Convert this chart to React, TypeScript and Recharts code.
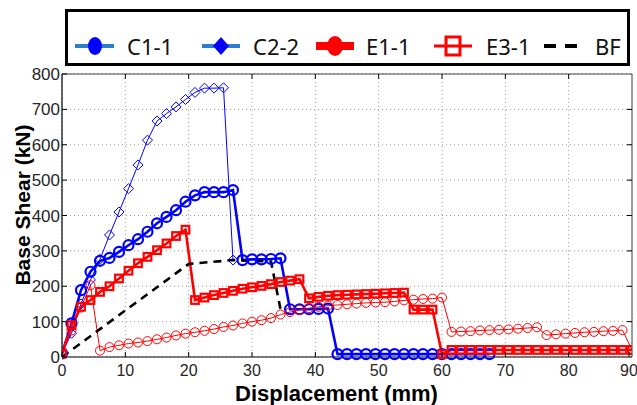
import React from "react";
import { LineChart, Line, XAxis, YAxis, CartesianGrid, ReferenceLine } from "recharts";

// displacement (mm) steps shared by the test series
const disp = [
  0, 1.5, 3, 4.5, 6, 7.5, 9, 10.5, 12, 13.5, 15, 16.5, 18, 19.5, 21, 22.5, 24, 25.5, 27, 28.5,
  30, 31.5, 33, 34.5, 36, 37.5, 39, 40.5, 42, 43.5, 45, 46.5, 48, 49.5, 51, 52.5, 54, 55.5, 57, 58.5,
  60, 61.5, 63, 64.5, 66, 67.5, 69, 70.5, 72, 73.5, 75, 76.5, 78, 79.5, 81, 82.5, 84, 85.5, 87, 88.5, 90,
];

// base shear (kN)
const c11 = [
  10, 95, 189, 241, 272, 280, 297, 316, 333, 354, 378, 396, 415, 439, 457, 466, 466, 466, 472, 274,
  276, 276, 277, 279, 135, 135, 135, 136, 137, 8, 8, 8, 8, 8, 8, 8, 8, 8, 8, 8,
  8, 8, 8, 8, 8, 8,
];
const c22 = [10, 67, 150, 218, 276, 345, 410, 476, 543, 613, 667, 688, 707, 728, 748, 760, 760, 761, 274];
const e11 = [
  10, 90, 142, 161, 184, 200, 222, 244, 265, 283, 302, 321, 342, 360, 161, 168, 175, 181, 187, 193,
  197, 201, 206, 212, 216, 220, 166, 170, 173, 175, 176, 177, 178, 179, 180, 181, 182, 134, 134, 134,
  8, 20, 20, 20, 20, 20, 20, 20, 20, 20, 20, 20, 20, 20, 20, 20, 20, 20, 20, 20, 20,
];
const e31 = [
  10, 75, 140, 203, 18, 28, 33, 38, 41, 45, 50, 55, 61, 66, 70, 74, 79, 85, 89, 95,
  100, 104, 110, 120, 127, 133, 138, 142, 145, 147, 149, 151, 153, 154, 155, 157, 160, 162, 164, 165,
  168, 71, 72, 73, 75, 76, 77, 78, 80, 82, 84, 62, 64, 66, 68, 70, 71, 73, 74, 76, 20,
];
const bfDisp = [0, 20, 27, 33, 34.5];
const bfShear = [0, 263, 274, 270, 135];

const xTicks = [0, 10, 20, 30, 40, 50, 60, 70, 80, 90];
const yTicks = [0, 100, 200, 300, 400, 500, 600, 700, 800];

const toPoints = (xs: number[], ys: number[]) => ys.map((v, i) => ({ x: xs[i], y: v }));

const BLUE = "#0000ff";
const RED = "#ff0000";
const LEGEND_BLUE = "#2c7fce";
const FONT = "'Liberation Sans', Arial, sans-serif";

const circleDot = (color: string, r: number, sw: number) => (props: any) => {
  const { cx, cy, index } = props;
  if (cx == null || cy == null) return <g key={index} />;
  return <circle key={index} cx={cx} cy={cy} r={r} fill="none" stroke={color} strokeWidth={sw} />;
};

const squareDot = (color: string, h: number, sw: number) => (props: any) => {
  const { cx, cy, index } = props;
  if (cx == null || cy == null) return <g key={index} />;
  return <rect key={index} x={cx - h} y={cy - h} width={h * 2} height={h * 2} fill="none" stroke={color} strokeWidth={sw} />;
};

const diamondDot = (color: string, h: number, sw: number) => (props: any) => {
  const { cx, cy, index } = props;
  if (cx == null || cy == null) return <g key={index} />;
  return (
    <path
      key={index}
      d={`M${cx},${cy - h}L${cx + h},${cy}L${cx},${cy + h}L${cx - h},${cy}Z`}
      fill="none"
      stroke={color}
      strokeWidth={sw}
    />
  );
};

// MATLAB-style ticks: the mark points into the plot, the label sits outside
const XTick = (props: any) => {
  const { x, y, payload } = props;
  return (
    <g>
      <line x1={x} y1={y - 8} x2={x} y2={y - 13} stroke="#000" strokeWidth={1} />
      <text x={x} y={y} dy="0.71em" textAnchor="middle" fontSize={16} fill="#262626" fontFamily={FONT}>
        {payload.value}
      </text>
    </g>
  );
};

const YTick = (props: any) => {
  const { x, y, payload } = props;
  return (
    <g>
      <line x1={x + 2} y1={y} x2={x + 7} y2={y} stroke="#000" strokeWidth={1} />
      <text x={x} y={y} dy="0.355em" textAnchor="end" fontSize={17} fill="#262626" fontFamily={FONT}>
        {payload.value}
      </text>
    </g>
  );
};

const legendText: React.CSSProperties = {
  position: "absolute",
  top: 31,
  fontFamily: "'Noto Sans', sans-serif",
  fontSize: 22,
  lineHeight: "30px",
  color: "#111",
};

function ChartLegend() {
  return (
    <div style={{ position: "absolute", left: 0, top: 0, width: 637, height: 70, pointerEvents: "none" }}>
      <div
        style={{
          position: "absolute",
          left: 65,
          top: 9,
          width: 559,
          height: 51,
          border: "3px solid #000",
          background: "#fff",
        }}
      />
      <svg width={637} height={70} style={{ position: "absolute", left: 0, top: 0 }}>
        <line x1={75} y1={46} x2={114} y2={46} stroke={LEGEND_BLUE} strokeWidth={4} />
        <ellipse cx={95} cy={46} rx={7} ry={9} fill={BLUE} />
        <line x1={202} y1={46} x2={240} y2={46} stroke={LEGEND_BLUE} strokeWidth={4} />
        <path d="M221,37L229,46L221,55L213,46Z" fill={BLUE} />
        <line x1={316} y1={46} x2={354} y2={46} stroke={RED} strokeWidth={8} />
        <ellipse cx={335} cy={46} rx={8} ry={10} fill={RED} />
        <line x1={434} y1={46} x2={472} y2={46} stroke={RED} strokeWidth={3} />
        <rect x={446} y={37} width={14} height={18} fill="none" stroke={RED} strokeWidth={3} />
        <line x1={544} y1={46} x2={556} y2={46} stroke="#000" strokeWidth={4} />
        <line x1={565} y1={46} x2={577} y2={46} stroke="#000" strokeWidth={4} />
      </svg>
      <span style={{ ...legendText, left: 127 }}>C1-1</span>
      <span style={{ ...legendText, left: 253 }}>C2-2</span>
      <span style={{ ...legendText, left: 366 }}>E1-1</span>
      <span style={{ ...legendText, left: 486 }}>E3-1</span>
      <span style={{ ...legendText, left: 595 }}>BF</span>
    </div>
  );
}

export default function App() {
  return (
    <div style={{ position: "absolute", left: 0, top: 0, width: 637, height: 405, background: "#fff" }}>
      <LineChart width={637} height={405} margin={{ top: 74, right: 5, left: 0, bottom: 18 }}>
        <CartesianGrid stroke="#9a9a9a" strokeDasharray="1 3" />
        <XAxis
          type="number"
          dataKey="x"
          domain={[0, 90]}
          ticks={xTicks}
          allowDataOverflow
          height={30}
          tickLine={false}
          tickSize={0}
          tickMargin={8}
          axisLine={{ stroke: "#000", strokeWidth: 1.2 }}
          tick={<XTick />}
        />
        <YAxis
          type="number"
          dataKey="y"
          domain={[0, 800]}
          ticks={yTicks}
          width={62}
          tickLine={false}
          tickSize={0}
          tickMargin={2}
          axisLine={{ stroke: "#000", strokeWidth: 1.2 }}
          tick={<YTick />}
        />
        <ReferenceLine y={800} stroke="#444" strokeWidth={1} />
        <ReferenceLine x={90} stroke="#444" strokeWidth={1} />
        {xTicks.slice(1, -1).map((t) => (
          <ReferenceLine key={`tx${t}`} segment={[{ x: t, y: 800 }, { x: t, y: 786 }]} stroke="#000" strokeWidth={1} />
        ))}
        {yTicks.slice(1, -1).map((t) => (
          <ReferenceLine key={`ty${t}`} segment={[{ x: 90, y: t }, { x: 89.2, y: t }]} stroke="#000" strokeWidth={1} />
        ))}
        <Line
          data={toPoints(disp, c11)}
          dataKey="y"
          type="linear"
          stroke={BLUE}
          strokeWidth={2.6}
          dot={circleDot(BLUE, 5, 2.2)}
          isAnimationActive={false}
        />
        <Line
          data={toPoints(disp, c22)}
          dataKey="y"
          type="linear"
          stroke={BLUE}
          strokeWidth={1}
          dot={diamondDot(BLUE, 5, 1)}
          isAnimationActive={false}
        />
        <Line
          data={toPoints(disp, e11)}
          dataKey="y"
          type="linear"
          stroke={RED}
          strokeWidth={2.6}
          dot={squareDot(RED, 3.8, 2.2)}
          isAnimationActive={false}
        />
        <Line
          data={toPoints(disp, e31)}
          dataKey="y"
          type="linear"
          stroke={RED}
          strokeWidth={1}
          dot={circleDot(RED, 4.5, 1)}
          isAnimationActive={false}
        />
        <Line
          data={toPoints(bfDisp, bfShear)}
          dataKey="y"
          type="linear"
          stroke="#000"
          strokeWidth={2.6}
          strokeDasharray="8 6"
          dot={false}
          isAnimationActive={false}
        />
      </LineChart>
      <ChartLegend />
      <div
        style={{
          position: "absolute",
          left: 235,
          top: 384,
          width: 200,
          textAlign: "center",
          fontFamily: FONT,
          fontWeight: "bold",
          fontSize: 22,
          lineHeight: "20px",
          whiteSpace: "nowrap",
          color: "#000",
        }}
      >
        Displacement (mm)
      </div>
      <div
        style={{
          position: "absolute",
          left: 23 - 100,
          top: 205 - 11,
          width: 200,
          textAlign: "center",
          transform: "rotate(-90deg)",
          fontFamily: FONT,
          fontWeight: "bold",
          fontSize: 21,
          lineHeight: "22px",
          whiteSpace: "nowrap",
          color: "#000",
        }}
      >
        Base Shear (kN)
      </div>
    </div>
  );
}
